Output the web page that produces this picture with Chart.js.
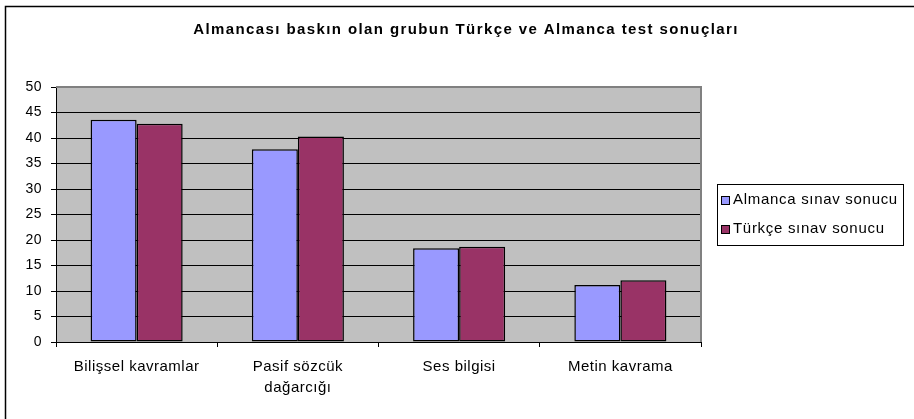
<!DOCTYPE html>
<html>
<head>
<meta charset="utf-8">
<script src="https://cdn.jsdelivr.net/npm/chart.js@4.4.1/dist/chart.umd.min.js"></script>
<style>
  html, body { margin: 0; padding: 0; background: #fff; }
  canvas { display: block; }
</style>
</head>
<body>
<canvas id="chart" width="914" height="419"></canvas>
<script>
// data
const chartTitle = "Almancası baskın olan grubun Türkçe ve Almanca test sonuçları";
const categories = [["Bilişsel kavramlar"], ["Pasif sözcük", "dağarcığı"], ["Ses bilgisi"], ["Metin kavrama"]];
const seriesNames = ["Almanca sınav sonucu", "Türkçe sınav sonucu"];
const almancaValues = [43.6, 37.8, 18.4, 11.2];
const turkceValues = [42.8, 40.3, 18.7, 12.1];
const yMin = 0, yMax = 50, yStep = 5;

const colors = ["#9999FF", "#993366"];
const FONT = "'Liberation Sans', Arial, sans-serif";

// the old Excel text is a bit wider than Arial, so space the letters out a little
const spacing = {
  id: "spacing",
  beforeUpdate(chart) { chart.ctx.letterSpacing = "0.5px"; },
  beforeDraw(chart) { chart.ctx.letterSpacing = "0.5px"; }
};

// gray plot background, outer frame, title, plot border and legend box
const excelLook = {
  id: "excelLook",
  beforeDraw(chart) {
    const ctx = chart.ctx;
    const a = chart.chartArea;
    ctx.save();
    ctx.fillStyle = "#fff";
    ctx.fillRect(0, 0, chart.width, chart.height);
    ctx.fillStyle = "#C0C0C0";
    ctx.fillRect(a.left, a.top, a.right - a.left, a.bottom - a.top);
    // outer frame (only top/left visible in the reference)
    ctx.strokeStyle = "#000";
    ctx.lineWidth = 1.5;
    ctx.beginPath();
    ctx.moveTo(5.5, chart.height);
    ctx.lineTo(5.5, 6.5);
    ctx.lineTo(chart.width, 6.5);
    ctx.stroke();
    ctx.restore();
  },
  afterDraw(chart) {
    const ctx = chart.ctx;
    const a = chart.chartArea;
    ctx.save();
    // plot border top/right
    ctx.strokeStyle = "#808080";
    ctx.lineWidth = 2;
    ctx.beginPath();
    ctx.moveTo(a.left, a.top);
    ctx.lineTo(a.right, a.top);
    ctx.lineTo(a.right, a.bottom);
    ctx.stroke();

    // title
    ctx.fillStyle = "#000";
    ctx.font = "bold 15px " + FONT;
    ctx.letterSpacing = "1.4px";
    ctx.textAlign = "center";
    ctx.textBaseline = "middle";
    ctx.fillText(chartTitle, 466, 30);

    // legend
    const lx = 717.5, ly = 184.5, lw = 186, lh = 61;
    ctx.strokeStyle = "#000";
    ctx.lineWidth = 1;
    ctx.strokeRect(lx, ly, lw, lh);
    ctx.font = "15px " + FONT;
    ctx.letterSpacing = "0.7px";
    ctx.textAlign = "left";
    chart.data.datasets.forEach((ds, i) => {
      const cy = 200 + i * 29;
      ctx.fillStyle = ds.backgroundColor;
      ctx.fillRect(721, cy - 4, 8, 8);
      ctx.strokeRect(721.5, cy - 3.5, 8, 8);
      ctx.fillStyle = "#000";
      ctx.fillText(ds.label, 733, cy);
    });
    ctx.restore();
  }
};

new Chart(document.getElementById("chart"), {
  type: "bar",
  data: {
    labels: categories,
    datasets: [
      { label: seriesNames[0], data: almancaValues, backgroundColor: colors[0] },
      { label: seriesNames[1], data: turkceValues, backgroundColor: colors[1] }
    ]
  },
  options: {
    responsive: false,
    animation: false,
    layout: { padding: { left: 0, top: 87, right: 213, bottom: 0 } },
    datasets: {
      bar: {
        barPercentage: 1,
        categoryPercentage: 0.571,
        borderColor: "#000",
        borderWidth: 1.5,
        borderSkipped: false
      }
    },
    plugins: {
      legend: { display: false },
      tooltip: { enabled: false }
    },
    scales: {
      x: {
        afterFit(scale) { scale.height = 77; },
        grid: { drawOnChartArea: false, drawTicks: true, tickLength: 5, color: "#000", offset: true },
        border: { color: "#000", width: 1 },
        ticks: {
          color: "#000",
          padding: 10,
          maxRotation: 0,
          autoSkip: false,
          font: { family: FONT, size: 15, lineHeight: 1.35 }
        }
      },
      y: {
        min: yMin,
        max: yMax,
        afterFit(scale) { scale.width = 56; },
        grid: { color: "#000", lineWidth: 1, drawTicks: true, tickLength: 5 },
        border: { color: "#000", width: 1 },
        ticks: {
          stepSize: yStep,
          color: "#000",
          padding: 9,
          font: { family: FONT, size: 14 }
        }
      }
    }
  },
  plugins: [spacing, excelLook]
});
</script>
</body>
</html>
